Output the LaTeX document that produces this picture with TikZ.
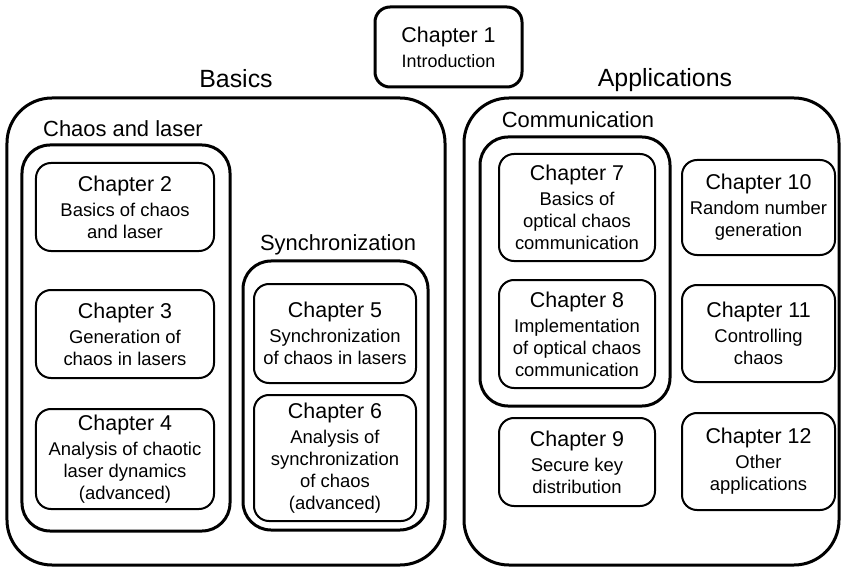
\documentclass[tikz,border=0pt]{standalone}
\usepackage{fontspec}
\setmainfont{Liberation Sans}
\usepackage{xcolor}
\usepackage{tikz}
\usetikzlibrary{positioning}
\definecolor{inkx}{HTML}{000000}
\tikzset{
  chap/.style={draw=inkx,line width=2bp,rounded corners=15bp,align=center,inner sep=2bp,
    font=\fontsize{18.5}{22}\selectfont},
  grp/.style={draw=inkx,line width=3bp,rounded corners=28bp,inner sep=0pt},
  big/.style={grp,rounded corners=45bp},
  lbl/.style={anchor=base,inner sep=0pt,font=\fontsize{22}{26}\selectfont},
  toplbl/.style={lbl,font=\fontsize{25}{30}\selectfont}
}
\newcommand{\chapname}[1]{{\fontsize{21.5}{25}\selectfont #1}\\[3bp]}

\begin{document}
\begin{tikzpicture}[x=1bp,y=-1bp]
\useasboundingbox (0,0) rectangle (841,567);
% outer parts
\node[big,minimum width=438bp,minimum height=467bp] (basics) at (226,331.5) {};
\node[big,minimum width=375bp,minimum height=467bp] (apps) at (651.5,331.5) {};
\node[toplbl] (basicslbl) at (236,88) {Basics};
\node[toplbl] (appslbl) at (665,87) {Applications};
% groups
\node[grp,minimum width=208bp,minimum height=386bp] (chaosbox) at (126,338) {};
\node[grp,minimum width=185bp,minimum height=269bp] (syncbox) at (335.5,395.5) {};
\node[grp,minimum width=190bp,minimum height=269bp] (commbox) at (575,271.5) {};
\node[lbl] (chaoslbl) at (123,137) {Chaos and laser};
\node[lbl] (synclbl) at (338,251) {Synchronization};
\node[lbl] (commlbl) at (578,128) {Communication};
% chapters
\node[chap,line width=3bp,minimum width=147bp,minimum height=80bp,font=\fontsize{18}{22}\selectfont] (ch1) at (448.5,47) {\chapname{Chapter 1}Introduction};
\node[chap,minimum width=178bp,minimum height=88bp] (ch2) at (125,207) {\chapname{Chapter 2}Basics of chaos\\and laser};
\node[chap,minimum width=178bp,minimum height=88bp] (ch3) at (125,334) {\chapname{Chapter 3}Generation of\\chaos in lasers};
\node[chap,minimum width=178bp,minimum height=100bp] (ch4) at (125,459) {\chapname{Chapter 4}Analysis of chaotic\\laser dynamics\\(advanced)};
\node[chap,minimum width=162bp,minimum height=99bp] (ch5) at (335,333.5) {\chapname{Chapter 5}Synchronization\\of chaos in lasers};
\node[chap,minimum width=162bp,minimum height=126bp] (ch6) at (335,458) {\chapname{Chapter 6}Analysis of\\synchronization\\of chaos\\(advanced)};
\node[chap,minimum width=156bp,minimum height=107bp] (ch7) at (577,207.5) {\chapname{Chapter 7}Basics of\\optical chaos\\communication};
\node[chap,minimum width=156bp,minimum height=108bp] (ch8) at (577,334) {\chapname{Chapter 8}Implementation\\of optical chaos\\communication};
\node[chap,minimum width=156bp,minimum height=88bp] (ch9) at (577,462) {\chapname{Chapter 9}Secure key\\distribution};
\node[chap,minimum width=153bp,minimum height=95bp] (ch10) at (758.5,207.5) {\chapname{Chapter 10}Random number\\generation};
\node[chap,minimum width=153bp,minimum height=97bp] (ch11) at (758.5,333.5) {\chapname{Chapter 11}Controlling\\chaos};
\node[chap,minimum width=153bp,minimum height=97bp] (ch12) at (758.5,461.5) {\chapname{Chapter 12}Other\\applications};
\end{tikzpicture}
\end{document}
